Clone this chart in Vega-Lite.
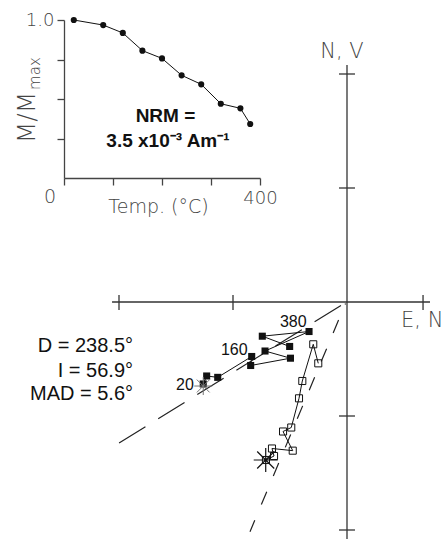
{
"$schema":"https://vega.github.io/schema/vega-lite/v6.json",
"width":446,"height":539,"autosize":{"type":"none"},"padding":0,
"background":"white",
"config":{"view":{"stroke":null}},
"datasets":{
 "zaxes":[
  {"x":-2.061,"y":0,"x2":0.728,"y2":0},
  {"x":0,"y":2.079,"x2":0,"y2":-2.2},
  {"x":-2,"y":0.061,"x2":-2,"y2":-0.07},
  {"x":-1,"y":0.061,"x2":-1,"y2":-0.07},
  {"x":0.667,"y":0.061,"x2":0.667,"y2":-0.07},
  {"x":-0.07,"y":2,"x2":0.07,"y2":2},
  {"x":-0.07,"y":1,"x2":0.07,"y2":1},
  {"x":-0.07,"y":-1,"x2":0.07,"y2":-1},
  {"x":-0.07,"y":-2,"x2":0.07,"y2":-2}
 ],
 "filled":[
  {"ord":1,"x":-1.261,"y":-0.719},
  {"ord":2,"x":-1.231,"y":-0.649},
  {"ord":3,"x":-1.134,"y":-0.661},
  {"ord":4,"x":-0.836,"y":-0.478},
  {"ord":5,"x":-0.845,"y":-0.557},
  {"ord":6,"x":-0.496,"y":-0.493},
  {"ord":7,"x":-0.719,"y":-0.430},
  {"ord":8,"x":-0.333,"y":-0.259},
  {"ord":9,"x":-0.743,"y":-0.300},
  {"ord":10,"x":-0.503,"y":-0.390}
 ],
 "open":[
  {"ord":1,"x":-0.711,"y":-1.386},
  {"ord":2,"x":-0.640,"y":-1.351},
  {"ord":3,"x":-0.658,"y":-1.285},
  {"ord":4,"x":-0.476,"y":-1.304},
  {"ord":5,"x":-0.561,"y":-1.136},
  {"ord":6,"x":-0.489,"y":-1.101},
  {"ord":7,"x":-0.421,"y":-0.845},
  {"ord":8,"x":-0.392,"y":-0.693},
  {"ord":9,"x":-0.296,"y":-0.371},
  {"ord":10,"x":-0.252,"y":-0.538}
 ],
 "fitH":[{"ord":1,"x":-0.053,"y":-0.031},{"ord":2,"x":-2.0,"y":-1.237}],
 "fitV":[{"ord":1,"x":-0.013,"y":-0.013},{"ord":2,"x":-0.851,"y":-2.015}],
 "starF":[{"x":-1.261,"y":-0.737}],
 "starO":[{"x":-0.713,"y":-1.386}],
 "tlabels":[
  {"x":-1.421,"y":-0.772,"text":"20"},
  {"x":-0.989,"y":-0.465,"text":"160"},
  {"x":-0.471,"y":-0.217,"text":"380"}
 ],
 "stats":[
  {"x":-1.877,"y":-0.439,"text":"D = 238.5°"},
  {"x":-1.877,"y":-0.658,"text":"I = 56.9°"},
  {"x":-1.877,"y":-0.860,"text":"MAD = 5.6°"}
 ],
 "axlabels":[
  {"x":-0.044,"y":2.140,"text":"N,  V","al":"center"},
  {"x":0.474,"y":-0.219,"text":"E,  N","al":"left"}
 ],
 "demag":[
  {"temp":20,"m":1.0},
  {"temp":80,"m":0.968},
  {"temp":120,"m":0.918},
  {"temp":160,"m":0.806},
  {"temp":200,"m":0.757},
  {"temp":240,"m":0.650},
  {"temp":280,"m":0.593},
  {"temp":320,"m":0.470},
  {"temp":360,"m":0.441},
  {"temp":380,"m":0.342}
 ],
 "insetText":[
  {"temp":-28.6,"m":-0.160,"text":"0"},
  {"temp":192.9,"m":-0.222,"text":"Temp.  (°C)"}
 ],
 "nrm":[
  {"temp":207.1,"m":0.354,"text":"NRM ="},
  {"temp":212.2,"m":0.196,"text":"3.5 x10⁻³ Am⁻¹"}
 ],
 "ytitle":[{"temp":-59.2,"m":0.383,"text":"M/M"}],
 "ysub":[{"temp":-49,"m":0.661,"text":"max"}]
},
"layer":[
 {"layer":[
  {"data":{"name":"zaxes"},"mark":{"type":"rule","color":"#333","strokeWidth":1.3},
   "encoding":{
    "x":{"field":"x","type":"quantitative","scale":{"domain":[-3,1],"range":[5,461],"nice":false,"zero":false},"axis":null},
    "y":{"field":"y","type":"quantitative","scale":{"domain":[-2,2],"range":[530,74],"nice":false,"zero":false},"axis":null},
    "x2":{"field":"x2"},"y2":{"field":"y2"}}},
  {"data":{"name":"fitH"},"mark":{"type":"line","color":"#222","strokeWidth":1.2,"strokeDash":[31,15]},
   "encoding":{
    "x":{"field":"x","type":"quantitative","scale":{"domain":[-3,1],"range":[5,461],"nice":false,"zero":false},"axis":null},
    "y":{"field":"y","type":"quantitative","scale":{"domain":[-2,2],"range":[530,74],"nice":false,"zero":false},"axis":null},
    "order":{"field":"ord"}}},
  {"data":{"name":"fitV"},"mark":{"type":"line","color":"#222","strokeWidth":1.2,"strokeDash":[14,17],"strokeDashOffset":13},
   "encoding":{
    "x":{"field":"x","type":"quantitative","scale":{"domain":[-3,1],"range":[5,461],"nice":false,"zero":false},"axis":null},
    "y":{"field":"y","type":"quantitative","scale":{"domain":[-2,2],"range":[530,74],"nice":false,"zero":false},"axis":null},
    "order":{"field":"ord"}}},
  {"data":{"name":"filled"},"mark":{"type":"line","color":"#111","strokeWidth":1},
   "encoding":{
    "x":{"field":"x","type":"quantitative","scale":{"domain":[-3,1],"range":[5,461],"nice":false,"zero":false},"axis":null},
    "y":{"field":"y","type":"quantitative","scale":{"domain":[-2,2],"range":[530,74],"nice":false,"zero":false},"axis":null},
    "order":{"field":"ord"}}},
  {"data":{"name":"filled"},"mark":{"type":"point","shape":"square","filled":true,"color":"#111","size":50,"opacity":1},
   "encoding":{
    "x":{"field":"x","type":"quantitative","scale":{"domain":[-3,1],"range":[5,461],"nice":false,"zero":false},"axis":null},
    "y":{"field":"y","type":"quantitative","scale":{"domain":[-2,2],"range":[530,74],"nice":false,"zero":false},"axis":null}}},
  {"data":{"name":"open"},"mark":{"type":"line","color":"#111","strokeWidth":1},
   "encoding":{
    "x":{"field":"x","type":"quantitative","scale":{"domain":[-3,1],"range":[5,461],"nice":false,"zero":false},"axis":null},
    "y":{"field":"y","type":"quantitative","scale":{"domain":[-2,2],"range":[530,74],"nice":false,"zero":false},"axis":null},
    "order":{"field":"ord"}}},
  {"data":{"name":"open"},"mark":{"type":"point","shape":"square","filled":false,"color":"#111","size":50,"strokeWidth":1,"opacity":1},
   "encoding":{
    "x":{"field":"x","type":"quantitative","scale":{"domain":[-3,1],"range":[5,461],"nice":false,"zero":false},"axis":null},
    "y":{"field":"y","type":"quantitative","scale":{"domain":[-2,2],"range":[530,74],"nice":false,"zero":false},"axis":null}}},
  {"data":{"name":"starF"},"mark":{"type":"point","shape":"M-1,0L1,0M0,-1L0,1M-0.71,-0.71L0.71,0.71M-0.71,0.71L0.71,-0.71","filled":false,"color":"#777","size":324,"strokeWidth":1,"opacity":1},
   "encoding":{
    "x":{"field":"x","type":"quantitative","scale":{"domain":[-3,1],"range":[5,461],"nice":false,"zero":false},"axis":null},
    "y":{"field":"y","type":"quantitative","scale":{"domain":[-2,2],"range":[530,74],"nice":false,"zero":false},"axis":null}}},
  {"data":{"name":"starO"},"mark":{"type":"point","shape":"M-1,0L1,0M0,-1L0,1M-0.71,-0.71L0.71,0.71M-0.71,0.71L0.71,-0.71","filled":false,"color":"#111","size":576,"strokeWidth":1.2,"opacity":1},
   "encoding":{
    "x":{"field":"x","type":"quantitative","scale":{"domain":[-3,1],"range":[5,461],"nice":false,"zero":false},"axis":null},
    "y":{"field":"y","type":"quantitative","scale":{"domain":[-2,2],"range":[530,74],"nice":false,"zero":false},"axis":null}}},
  {"data":{"name":"tlabels"},"mark":{"type":"text","font":"Liberation Sans","fontSize":16,"color":"#111","align":"center","baseline":"alphabetic"},
   "encoding":{
    "x":{"field":"x","type":"quantitative","scale":{"domain":[-3,1],"range":[5,461],"nice":false,"zero":false},"axis":null},
    "y":{"field":"y","type":"quantitative","scale":{"domain":[-2,2],"range":[530,74],"nice":false,"zero":false},"axis":null},
    "text":{"field":"text"}}},
  {"data":{"name":"stats"},"mark":{"type":"text","font":"Liberation Sans","fontSize":20,"color":"#111","align":"right","baseline":"alphabetic"},
   "encoding":{
    "x":{"field":"x","type":"quantitative","scale":{"domain":[-3,1],"range":[5,461],"nice":false,"zero":false},"axis":null},
    "y":{"field":"y","type":"quantitative","scale":{"domain":[-2,2],"range":[530,74],"nice":false,"zero":false},"axis":null},
    "text":{"field":"text"}}},
  {"data":{"name":"axlabels"},"transform":[{"filter":"datum.al == 'center'"}],"mark":{"type":"text","font":"DejaVu Sans","fontWeight":200,"fontSize":21,"color":"#444","align":"center","baseline":"alphabetic"},
   "encoding":{
    "x":{"field":"x","type":"quantitative","scale":{"domain":[-3,1],"range":[5,461],"nice":false,"zero":false},"axis":null},
    "y":{"field":"y","type":"quantitative","scale":{"domain":[-2,2],"range":[530,74],"nice":false,"zero":false},"axis":null},
    "text":{"field":"text"}}},
  {"data":{"name":"axlabels"},"transform":[{"filter":"datum.al == 'left'"}],"mark":{"type":"text","font":"DejaVu Sans","fontWeight":200,"fontSize":21,"color":"#444","align":"left","baseline":"alphabetic"},
   "encoding":{
    "x":{"field":"x","type":"quantitative","scale":{"domain":[-3,1],"range":[5,461],"nice":false,"zero":false},"axis":null},
    "y":{"field":"y","type":"quantitative","scale":{"domain":[-2,2],"range":[530,74],"nice":false,"zero":false},"axis":null},
    "text":{"field":"text"}}}
 ]},
 {"layer":[
  {"data":{"name":"demag"},"mark":{"type":"line","color":"#111","strokeWidth":1,"point":{"filled":true,"color":"#111","size":38,"opacity":1}},
   "encoding":{
    "x":{"field":"temp","type":"quantitative","scale":{"domain":[0,400],"range":[64,260],"nice":false,"zero":false},
     "axis":{"orient":"bottom","offset":-361,"values":[0,100,200,300,400],"tickSize":7,"domainColor":"#444","tickColor":"#444","domainWidth":1.3,"tickWidth":1.3,"grid":false,"title":null,"labelExpr":"datum.value == 400 ? '400' : ''","labelFont":"DejaVu Sans","labelFontWeight":200,"labelFontSize":18,"labelColor":"#444","labelPadding":4,"labelFlush":false,"labelOverlap":false}},
    "y":{"field":"m","type":"quantitative","scale":{"domain":[0,1],"range":[178,20],"nice":false,"zero":false},
     "axis":{"orient":"left","offset":-64,"values":[0.25,0.5,0.75,1],"tickSize":7,"domainColor":"#444","tickColor":"#444","domainWidth":1.3,"tickWidth":1.3,"grid":false,"title":null,"labelExpr":"datum.value == 1 ? '1.0' : ''","labelFont":"DejaVu Sans","labelFontWeight":200,"labelFontSize":18,"labelColor":"#444","labelPadding":3,"labelFlush":false,"labelOverlap":false}}}},
  {"data":{"name":"insetText"},"mark":{"type":"text","font":"DejaVu Sans","fontWeight":200,"fontSize":19,"color":"#444","align":"center","baseline":"alphabetic"},
   "encoding":{
    "x":{"field":"temp","type":"quantitative","scale":{"domain":[0,400],"range":[64,260],"nice":false,"zero":false}},
    "y":{"field":"m","type":"quantitative","scale":{"domain":[0,1],"range":[178,20],"nice":false,"zero":false}},
    "text":{"field":"text"}}},
  {"data":{"name":"nrm"},"mark":{"type":"text","font":"Liberation Sans","fontWeight":"bold","fontSize":19,"color":"#111","align":"center","baseline":"alphabetic"},
   "encoding":{
    "x":{"field":"temp","type":"quantitative","scale":{"domain":[0,400],"range":[64,260],"nice":false,"zero":false}},
    "y":{"field":"m","type":"quantitative","scale":{"domain":[0,1],"range":[178,20],"nice":false,"zero":false}},
    "text":{"field":"text"}}},
  {"data":{"name":"ytitle"},"mark":{"type":"text","font":"DejaVu Sans","fontWeight":200,"fontSize":25,"color":"#444","align":"center","baseline":"alphabetic","angle":270},
   "encoding":{
    "x":{"field":"temp","type":"quantitative","scale":{"domain":[0,400],"range":[64,260],"nice":false,"zero":false}},
    "y":{"field":"m","type":"quantitative","scale":{"domain":[0,1],"range":[178,20],"nice":false,"zero":false}},
    "text":{"field":"text"}}},
  {"data":{"name":"ysub"},"mark":{"type":"text","font":"DejaVu Sans","fontWeight":200,"fontSize":15,"color":"#444","align":"center","baseline":"alphabetic","angle":270},
   "encoding":{
    "x":{"field":"temp","type":"quantitative","scale":{"domain":[0,400],"range":[64,260],"nice":false,"zero":false}},
    "y":{"field":"m","type":"quantitative","scale":{"domain":[0,1],"range":[178,20],"nice":false,"zero":false}},
    "text":{"field":"text"}}}
 ]}
],
"resolve":{"scale":{"x":"independent","y":"independent"},"axis":{"x":"independent","y":"independent"}}
}
